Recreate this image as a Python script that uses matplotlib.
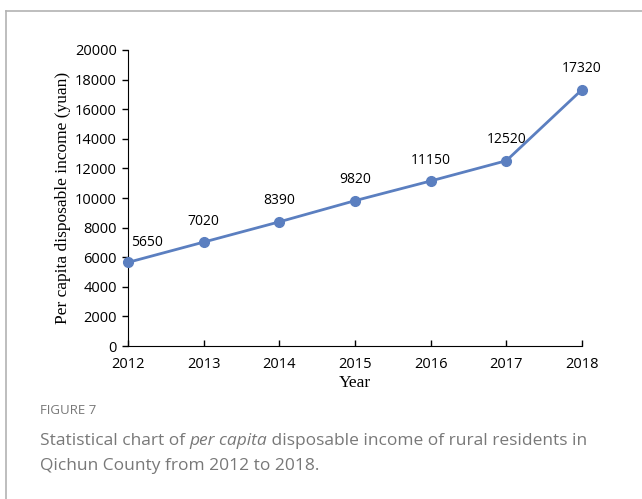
import matplotlib.pyplot as plt
from matplotlib.lines import Line2D

years = [2012, 2013, 2014, 2015, 2016, 2017, 2018]
income = [5650, 7020, 8390, 9820, 11150, 12520, 17320]
y_ticks = list(range(0, 20001, 2000))

blue = "#5b7fc0"
grey = "#787878"
sans = ["Open Sans", "DejaVu Sans"]

fig = plt.figure(figsize=(6.42, 4.99), dpi=100)
ax = fig.add_axes([0.1994, 0.3066, 0.7071, 0.5932])

ax.plot(years, income, color=blue, lw=2, marker="o", ms=7, clip_on=False, zorder=3)
for i, (x, v) in enumerate(zip(years, income)):
    if i == 0:
        ax.annotate(str(v), (x, v), xytext=(2, 14), textcoords="offset points",
                    ha="left", va="center", fontsize=10, family=sans)
    else:
        ax.annotate(str(v), (x, v), xytext=(0, 15), textcoords="offset points",
                    ha="center", va="center", fontsize=10, family=sans)

ax.set_xlim(2012, 2018)
ax.set_ylim(0, 20000)
ax.set_xticks(years)
ax.set_yticks(y_ticks)
for lab in ax.get_xticklabels() + ax.get_yticklabels():
    lab.set_family(sans)
    lab.set_fontsize(10.5)
ax.tick_params(axis="x", direction="in", length=4, width=1, pad=8)
ax.tick_params(axis="y", direction="out", length=4, width=1, pad=4)
ax.spines["top"].set_visible(False)
ax.spines["right"].set_visible(False)
ax.set_xlabel("Year", family="Liberation Serif", fontsize=12.5, labelpad=2)
ax.set_ylabel("Per capita disposable income (yuan)", family="Liberation Serif",
              fontsize=12.5, labelpad=3)

# card frame
fig.add_artist(Line2D([6 / 642, 6 / 642], [0, 1 - 11 / 499], color="#b3b3b3", lw=1.2,
                      transform=fig.transFigure))
fig.add_artist(Line2D([6 / 642, 1], [1 - 11 / 499, 1 - 11 / 499], color="#b3b3b3", lw=1.2,
                      transform=fig.transFigure))

fig.text(40 / 642, 1 - 411 / 499, "FIGURE 7", family=sans, fontsize=9.5,
         color=grey, va="center")

# caption line 1, with the italic part set in its own text
t = fig.text(40 / 642, 1 - 441 / 499, "Statistical chart of ", family=sans,
             fontsize=12.5, color=grey, va="center")
t = fig.add_artist(plt.Annotation("per capita", xy=(1, 0), xycoords=t, ha="left", va="bottom",
                                  family=sans, style="italic", fontsize=12.5, color=grey))
fig.add_artist(plt.Annotation(" disposable income of rural residents in", xy=(1, 0), xycoords=t,
                              ha="left", va="bottom", family=sans, fontsize=12.5, color=grey))
fig.text(40 / 642, 1 - 466 / 499, "Qichun County from 2012 to 2018.", family=sans,
         fontsize=12.5, color=grey, va="center")

plt.savefig("out.png", dpi=100)
